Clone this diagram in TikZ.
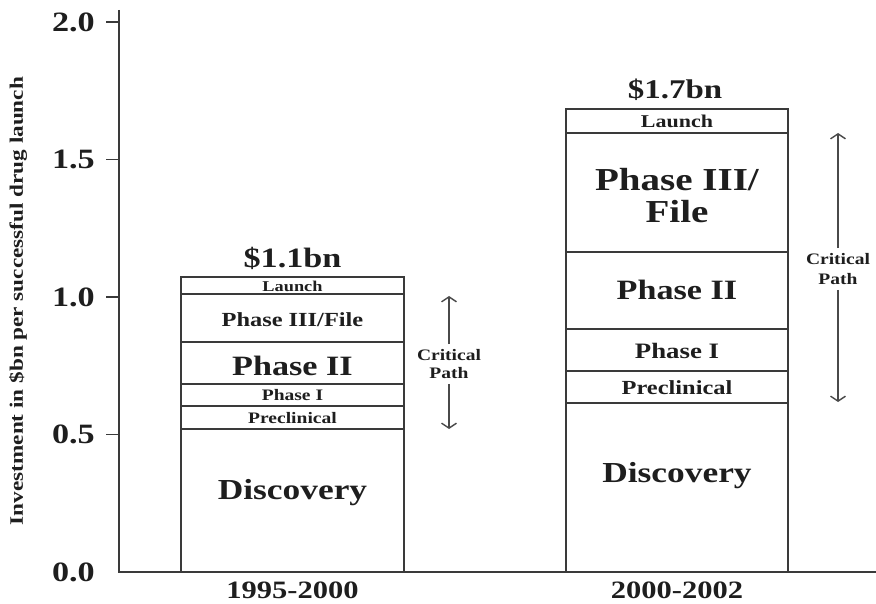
\documentclass[tikz,border=0pt]{standalone}
\usepackage{graphicx}
\usepackage{fontspec}
\setmainfont[FakeStretch=1.22]{Liberation Serif}
\usetikzlibrary{arrows.meta}
\definecolor{ln}{HTML}{3A3A3A}
\definecolor{tx}{HTML}{1E1E1E}
\definecolor{arr}{HTML}{4A4A4A}
\newcommand{\fs}[1]{\fontsize{#1}{#1}\selectfont}
\begin{document}
\begin{tikzpicture}[x=1pt,y=-1pt,
  axisline/.style={draw=ln, line width=1.8pt},
  barline/.style={draw=ln, line width=1.8pt},
  lbl/.style={text=tx, inner sep=0pt, align=center, font=\bfseries},
  cparrow/.style={draw=arr, line width=1.4pt, -{Straight Barb[length=5pt,width=15pt]}}]
\useasboundingbox (0,0) rectangle (876,604);
% axes
\coordinate (ytop) at (119,10);
\coordinate (origin) at (119,572);
\coordinate (xend) at (876,572);
\draw[axisline] (ytop) -- (origin) -- (xend);
\foreach \v/\y/\n in {2.0/22/a,1.5/159.5/b,1.0/297/c,0.5/434.5/d}{
  \coordinate (tk\n) at (106,\y);
  \draw[axisline] (tk\n) -- (119,\y);
  \node[lbl, anchor=east, font=\bfseries\fs{28}] (tl\n) at (95,\y) {\v};
}
\node[lbl, anchor=east, font=\bfseries\fs{28}] (tle) at (95,572) {0.0};
\node[text=tx, inner sep=0pt, rotate=90, font=\bfseries\fs{19}] (ylab) at (18,301) {Investment in \$bn per successful drug launch};
% bar 1
\draw[barline] (181,572) rectangle (404,277);
\foreach \y in {294,342,384,406,429}{\draw[barline] (181,\y) -- (404,\y);}
% bar 2
\draw[barline] (566,572) rectangle (788,109);
\foreach \y in {133,252,329,371,403}{\draw[barline] (566,\y) -- (788,\y);}
% labels bar 1
\node[lbl, font=\bfseries\fs{28}] (tot1) at (292.5,258) {\$1.1bn};
\node[lbl, font=\bfseries\fs{15}] (l1) at (292.5,286) {Launch};
\node[lbl, font=\bfseries\fs{20}] (p31) at (292.5,320) {Phase III/File};
\node[lbl, font=\bfseries\fs{28}] (p21) at (292.5,366) {Phase II};
\node[lbl, font=\bfseries\fs{16}] (p11) at (292.5,395) {Phase I};
\node[lbl, font=\bfseries\fs{16}] (pc1) at (292.5,418) {Preclinical};
\node[lbl, font=\bfseries\fs{29}] (d1) at (292.5,493) {Discovery};
\node[lbl, font=\bfseries\fs{25}] (y1) at (292.5,590) {1995-2000};
% labels bar 2
\node[lbl, font=\bfseries\fs{27}] (tot2) at (675,90) {\$1.7bn};
\node[lbl, font=\bfseries\fs{18}] (l2) at (677,121) {Launch};
\node[lbl, font=\bfseries\fs{32}] (p32) at (677,196) {Phase III/\\File};
\node[lbl, font=\bfseries\fs{28}] (p22) at (677,290) {Phase II};
\node[lbl, font=\bfseries\fs{22}] (p12) at (677,351) {Phase I};
\node[lbl, font=\bfseries\fs{20}] (pc2) at (677,388) {Preclinical};
\node[lbl, font=\bfseries\fs{29}] (d2) at (677,476) {Discovery};
\node[lbl, font=\bfseries\fs{25}] (y2) at (677,590) {2000-2002};
% critical path 1
\coordinate (c1t) at (449,296);
\coordinate (c1b) at (449,429);
\node[lbl, font=\bfseries\fontsize{16}{18}\selectfont, inner ysep=5pt] (cp1) at (449,364) {Critical\\Path};
\draw[cparrow] (cp1.north) -- (c1t);
\draw[cparrow] (cp1.south) -- (c1b);
% critical path 2
\coordinate (c2t) at (838,133);
\coordinate (c2b) at (838,402);
\node[lbl, font=\bfseries\fontsize{16}{20}\selectfont, inner ysep=5pt] (cp2) at (838,269) {Critical\\Path};
\draw[cparrow] (cp2.north) -- (c2t);
\draw[cparrow] (cp2.south) -- (c2b);
\end{tikzpicture}
\end{document}
